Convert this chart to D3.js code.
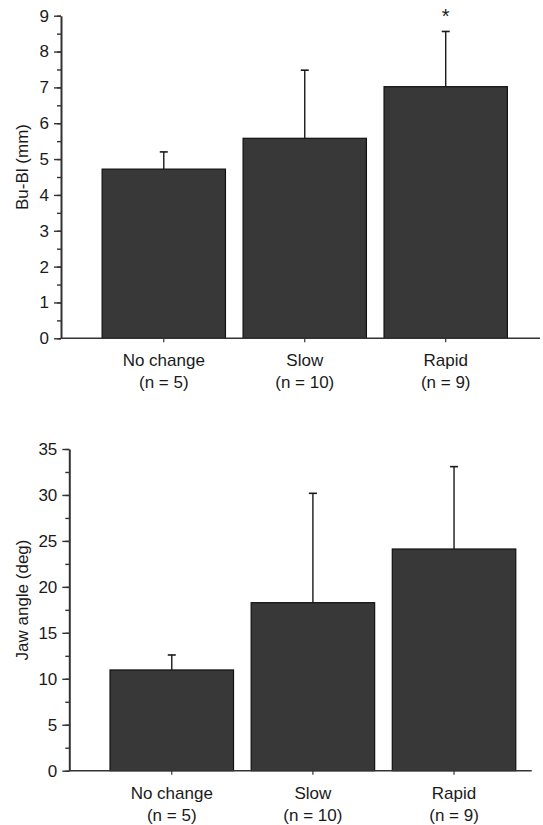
<!DOCTYPE html>
<html>
<head>
<meta charset="utf-8">
<script src="https://cdn.jsdelivr.net/npm/d3@7"></script>
<style>
  body { margin: 0; background: #fff; }
  svg text { font-family: "Liberation Sans", Arial, sans-serif; fill: #1a1a1a; }
</style>
</head>
<body>
<div id="vis"></div>
<script>
// groups and sample sizes
var categories = ["No change", "Slow", "Rapid"];
var groupSizes = [5, 10, 9];

// Bu-Bl distance (mm): mean and SD
var buBlMean = [4.72, 5.58, 7.02];
var buBlSD = [0.48, 1.90, 1.54];
var buBlMarks = ["", "", "*"];

// jaw angle (deg): mean and SD
var jawMean = [10.96, 18.28, 24.12];
var jawSD = [1.63, 11.90, 8.96];
var jawMarks = ["", "", ""];

var width = 543, height = 825;

var svg = d3.select('#vis').append('svg')
  .attr('width', width)
  .attr('height', height);

/**
 * drawPanel - one bar chart with upper error bars
 */
var drawPanel = function (p) {
  var rows = categories.map(function (c, i) {
    return { cat: c, n: groupSizes[i], mean: p.mean[i], sd: p.sd[i], mark: p.marks[i] };
  });

  var y = d3.scaleLinear().domain([0, p.max]).range([p.bottom, p.top]);
  var x = d3.scaleBand()
    .domain(categories)
    .range(p.xRange)
    .paddingInner(0.125)
    .paddingOuter(0.0625);

  var g = svg.append('g');

  // bars
  g.selectAll('.bar')
    .data(rows)
    .enter().append('rect')
    .attr('class', 'bar')
    .attr('x', function (d) { return x(d.cat); })
    .attr('y', function (d) { return y(d.mean); })
    .attr('width', x.bandwidth())
    .attr('height', function (d) { return y(0) - y(d.mean); })
    .attr('fill', '#383838')
    .attr('stroke', '#111')
    .attr('stroke-width', 1.2);

  // error bars (upper only)
  var cx = function (d) { return x(d.cat) + x.bandwidth() / 2; };
  g.selectAll('.err')
    .data(rows)
    .enter().append('line')
    .attr('x1', cx).attr('x2', cx)
    .attr('y1', function (d) { return y(d.mean); })
    .attr('y2', function (d) { return y(d.mean + d.sd); })
    .attr('stroke', '#1a1a1a')
    .attr('stroke-width', 1.4);
  g.selectAll('.cap')
    .data(rows)
    .enter().append('line')
    .attr('x1', function (d) { return cx(d) - 4; })
    .attr('x2', function (d) { return cx(d) + 4; })
    .attr('y1', function (d) { return y(d.mean + d.sd); })
    .attr('y2', function (d) { return y(d.mean + d.sd); })
    .attr('stroke', '#1a1a1a')
    .attr('stroke-width', 1.6);

  // significance marks
  g.selectAll('.mark')
    .data(rows.filter(function (d) { return d.mark; }))
    .enter().append('text')
    .attr('x', cx)
    .attr('y', function (d) { return y(d.mean + d.sd) - 8; })
    .attr('text-anchor', 'middle')
    .attr('font-size', 20)
    .text(function (d) { return d.mark; });

  // x axis line
  g.append('line')
    .attr('x1', p.axisX).attr('x2', p.xEnd)
    .attr('y1', y(0)).attr('y2', y(0))
    .attr('stroke', '#333')
    .attr('stroke-width', 1.5);

  // x ticks and category labels
  var xAxis = g.append('g')
    .attr('transform', 'translate(0,' + y(0) + ')')
    .call(d3.axisBottom(x).tickSize(4).tickSizeOuter(0).tickFormat(''));
  xAxis.select('.domain').remove();
  xAxis.selectAll('.tick line').attr('stroke', '#333').attr('stroke-width', 1.2);

  var labels = g.selectAll('.cat-label')
    .data(rows)
    .enter().append('text')
    .attr('class', 'cat-label')
    .attr('text-anchor', 'middle')
    .attr('font-size', 17);
  labels.append('tspan')
    .attr('x', cx)
    .attr('y', y(0) + 28)
    .text(function (d) { return d.cat; });
  labels.append('tspan')
    .attr('x', cx)
    .attr('y', y(0) + 50)
    .text(function (d) { return '(n = ' + d.n + ')'; });

  // minor y ticks
  var minor = g.append('g')
    .attr('transform', 'translate(' + p.axisX + ',0)')
    .call(d3.axisLeft(y).tickValues(d3.range(0, p.max + 0.001, p.step / 2)).tickSize(4).tickFormat(''));
  minor.select('.domain').remove();
  minor.selectAll('.tick line').attr('stroke', '#333').attr('stroke-width', 1.4);

  // major y ticks
  var yAxis = g.append('g')
    .attr('transform', 'translate(' + p.axisX + ',0)')
    .call(d3.axisLeft(y).tickValues(d3.range(0, p.max + 0.001, p.step)).tickSize(7).tickSizeOuter(0).tickPadding(5));
  yAxis.select('.domain').attr('stroke', '#333').attr('stroke-width', 2);
  yAxis.selectAll('.tick line').attr('stroke', '#333').attr('stroke-width', 1.4);
  yAxis.selectAll('.tick text')
    .attr('font-size', 17)
    .attr('font-family', '"Liberation Sans", Arial, sans-serif')
    .attr('fill', '#1a1a1a');

  // y axis title
  g.append('text')
    .attr('transform', 'translate(' + p.titleX + ',' + p.titleY + ') rotate(-90)')
    .attr('text-anchor', 'middle')
    .attr('font-size', 17)
    .text(p.title);
};

drawPanel({
  mean: buBlMean, sd: buBlSD, marks: buBlMarks,
  max: 9, step: 1,
  top: 15.7, bottom: 338.3,
  axisX: 61, xEnd: 540, xRange: [93.3, 516.2],
  title: 'Bu-Bl (mm)', titleX: 28, titleY: 167
});

drawPanel({
  mean: jawMean, sd: jawSD, marks: jawMarks,
  max: 35, step: 5,
  top: 449, bottom: 770.7,
  axisX: 69.3, xEnd: 531.7, xRange: [101.2, 524.6],
  title: 'Jaw angle (deg)', titleX: 28, titleY: 600
});
</script>
</body>
</html>
